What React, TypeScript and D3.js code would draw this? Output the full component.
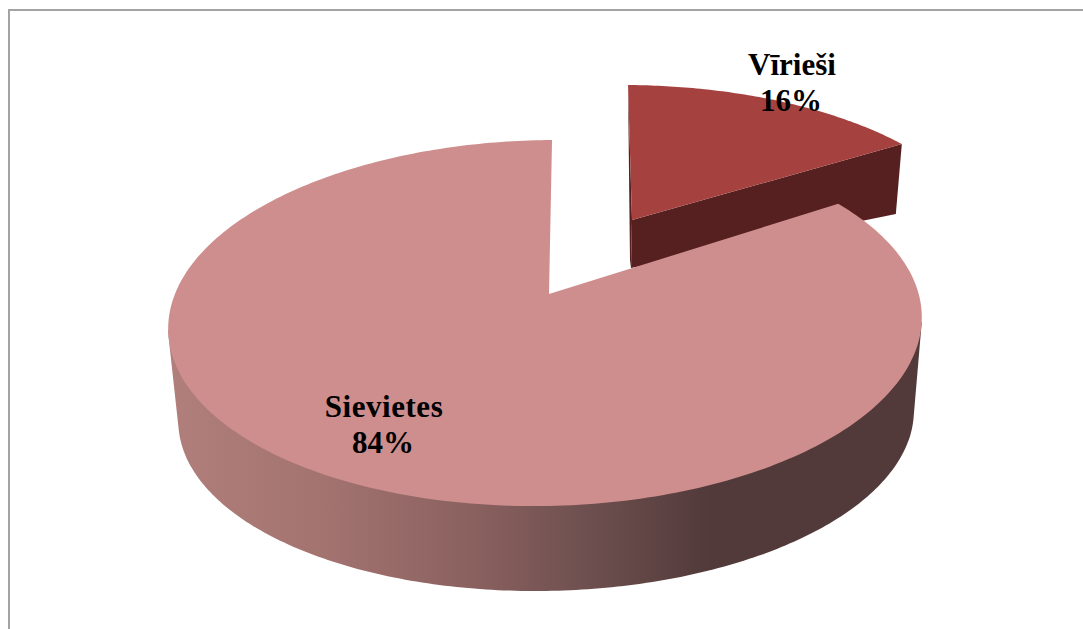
import React from "react";
import * as d3 from "d3";

const categories = ["Vīrieši", "Sievietes"];
const shares = [16, 84];
const colors = ["#a5423f", "#ce8e8d"];
const wedgeSide = "#55201f";

const W = 1083, H = 629;

// Projective map of the unit disc of each slice onto the picture plane
type Proj = { x0: number; y0: number; R: number; d: number; a: number; g: number; c: number; f: number };
const bigProj: Proj = { x0: 549, y0: 294, R: 372, d: 3.5, a: -178.4, g: -3.5, c: 0.1585, f: 0.009 };
const smallProj: Proj = { x0: 632, y0: 220, R: 352.6, d: -4.6, a: -156.4, g: 0.9, c: 0.1585, f: 0.011 };

const project = (p: Proj, theta: number, r = 1): [number, number] => {
  const u = r * Math.sin(theta), v = r * Math.cos(theta);
  const D = 1 + p.c * v + p.f * u;
  return [p.x0 + (p.R * u + p.d * v) / D, p.y0 + (p.a * v + p.g * u) / D];
};
// Lower rim of each slice: a scaled copy of its upper edge, shifted down
const dropBig = ([x, y]: [number, number]): [number, number] => [546 + 0.976 * (x - 544.9), 416 + 0.956 * (y - 323)];
const dropSmall = ([x, y]: [number, number]): [number, number] => [x - 1 - 0.0185 * (x - 632), y + 48 + 0.0815 * (x - 632)];

const arcPts = (p: Proj, a0: number, a1: number, n = 160) =>
  d3.range(n + 1).map((i) => project(p, a0 + ((a1 - a0) * i) / n));

const line = d3.line<[number, number]>().x((d) => d[0]).y((d) => d[1]);

export default function App() {
  const arcs = d3.pie<number>().sort(null).startAngle(0).endAngle(2 * Math.PI)(shares);
  const small = arcs[0], big = arcs[1];

  const bigTop: [number, number][] = [[bigProj.x0, bigProj.y0], ...arcPts(bigProj, big.startAngle, big.endAngle, 300)];
  const frontTop = arcPts(bigProj, (100 * Math.PI) / 180, (260 * Math.PI) / 180, 200);
  const rim = d3.polygonHull([...frontTop, ...frontTop.map(dropBig)])!;

  const smallTop: [number, number][] = [[smallProj.x0, smallProj.y0], ...arcPts(smallProj, small.startAngle, small.endAngle, 80)];
  const corner = project(smallProj, small.endAngle);
  const apex: [number, number] = [smallProj.x0, smallProj.y0];
  const cutFace: [number, number][] = [apex, corner, dropSmall(corner), dropSmall(apex)];
  const tip = project(smallProj, small.startAngle);
  const backFace: [number, number][] = [tip, apex, dropSmall(apex), [apex[0] - 2, apex[1] + 40]];

  const pct = (v: number) => `${Math.round((v / d3.sum(shares)) * 100)}%`;

  return (
    <svg width={W} height={H} style={{ position: "absolute", left: 0, top: 0, background: "#fff" }}>
      <defs>
        <linearGradient id="rim" gradientUnits="userSpaceOnUse" x1={172} x2={920} y1={0} y2={0}>
          <stop offset="0" stopColor="#b07f7c" />
          <stop offset="0.2" stopColor="#a37370" />
          <stop offset="0.4" stopColor="#8a615f" />
          <stop offset="0.55" stopColor="#6f5050" />
          <stop offset="0.72" stopColor="#523a3a" />
          <stop offset="1" stopColor="#523a3a" />
        </linearGradient>
      </defs>
      <path d={`M9,629 V10 H1083`} fill="none" stroke="#a3a3a3" strokeWidth={2} />

      <path d={line(backFace)! + "Z"} fill={wedgeSide} />
      <path d={line(cutFace)! + "Z"} fill={wedgeSide} />
      <path d={line(smallTop)! + "Z"} fill={colors[0]} />

      <path d={line(rim)! + "Z"} fill="url(#rim)" />
      <path d={line(bigTop)! + "Z"} fill={colors[1]} />

      <g fontFamily="'Liberation Serif', serif" fontWeight="bold" fontSize={31} textAnchor="middle" fill="#000">
        <text x={792} y={75}>{categories[0]}</text>
        <text x={791} y={111}>{pct(shares[0])}</text>
        <text x={384} y={417} letterSpacing={0.55}>{categories[1]}</text>
        <text x={383} y={453}>{pct(shares[1])}</text>
      </g>
    </svg>
  );
}
